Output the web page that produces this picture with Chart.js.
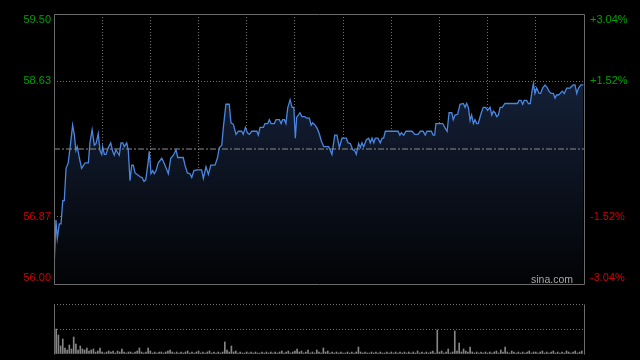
<!DOCTYPE html>
<html><head><meta charset="utf-8">
<script src="https://cdn.jsdelivr.net/npm/chart.js@4.4.0/dist/chart.umd.min.js"></script>
<style>
html,body{margin:0;padding:0;background:#000;width:640px;height:360px;overflow:hidden}
#p{position:absolute;left:0;top:0;width:640px;height:290px}
#v{position:absolute;left:0;top:290px;width:640px;height:70px}
</style></head><body>
<div id="p"><canvas id="pc"></canvas></div>
<div id="v"><canvas id="vc"></canvas></div>
<script>
// ---- data (minutes since open, price) ----
const times = [
0,0.9,1.5,2.4,3.2,4.0,4.7,5.5,6.5,7.6,
8.5,9.3,10.0,10.6,11.6,12.6,14.2,15.7,16.4,17.4,
18.4,19.2,20.2,21.0,21.8,22.2,23.0,23.7,24.8,25.9,
26.8,27.5,28.3,29.1,29.8,30.6,31.4,32.1,33.2,33.9,
34.7,35.5,36.2,37.0,38.0,39.3,40.2,41.1,41.9,42.8,
43.5,44.3,45.1,45.8,46.6,47.6,49.2,50.4,51.5,52.2,
53.3,54.5,55.7,56.5,58.0,59.0,59.8,60.9,62.1,62.9,
63.9,65.2,67.4,68.2,69.4,70.5,71.6,73.5,74.6,75.5,
76.6,77.3,78.5,80.0,80.8,81.9,83.1,84.2,85.7,86.4,
87.4,88.3,89.2,90.3,92.6,93.3,94.1,95.6,96.3,97.6,
98.3,99.1,100.6,101.4,102.9,103.7,104.4,105.2,105.9,106.7,
107.8,108.7,109.5,110.2,110.8,112.3,113.2,114.5,115.4,116.6,
117.4,118.1,119.2,120.1,121.1,122.1,123.2,125.4,126.2,126.9,
128.2,129.2,130.3,131.5,133.5,134.2,135.3,136.4,137.3,138.0,
139.1,139.9,140.6,141.4,142.6,143.7,144.4,145.2,146.0,146.7,
147.9,149.0,149.8,150.5,151.3,157.1,157.9,158.6,159.7,160.7,
163.5,164.7,166.2,167.3,168.5,169.5,170.3,172.3,173.1,173.8,
174.4,177.5,178.4,179.5,180.4,181.6,182.3,183.1,184.3,185.4,
186.9,187.7,188.4,189.2,190.0,190.7,191.5,192.2,193.0,193.7,
195.0,196.0,197.1,198.0,199.1,199.9,200.6,201.4,202.1,202.9,
203.7,204.7,205.9,211.7,212.3,213.2,214.0,214.7,215.8,216.6,
217.5,218.1,218.9,219.6,220.4,221.5,222.2,223.1,224.2,225.1,
226.0,226.9,228.0,228.8,229.5,230.3,231.1,232.1,233.0,234.1,
235.6,237.1,237.9,238.7,239.5,240.6,241.7
];
const prices = [
56.20,56.83,56.59,56.78,56.78,57.08,57.08,57.50,57.57,57.83,
58.06,57.93,57.73,57.78,57.63,57.50,57.57,57.57,57.83,58.00,
57.80,57.82,57.95,57.73,57.68,57.78,57.68,57.68,57.77,57.83,
57.72,57.67,57.74,57.70,57.67,57.83,57.83,57.78,57.83,57.74,
57.34,57.54,57.54,57.44,57.42,57.39,57.38,57.33,57.35,57.54,
57.72,57.43,57.47,57.43,57.47,57.57,57.63,57.56,57.48,57.43,
57.63,57.67,57.74,57.64,57.64,57.64,57.54,57.44,57.43,57.38,
57.47,57.48,57.48,57.37,57.52,57.42,57.54,57.54,57.63,57.77,
57.80,58.02,58.33,58.33,58.09,58.07,57.94,57.98,57.98,57.94,
58.03,57.96,57.94,57.98,57.98,57.93,58.03,58.03,58.08,58.08,
58.13,58.08,58.08,58.13,58.13,58.08,58.13,58.13,58.08,58.28,
58.39,58.29,58.29,57.89,58.16,58.22,58.17,58.17,58.15,58.15,
58.06,58.09,58.06,58.02,57.95,57.85,57.78,57.78,57.73,57.68,
57.93,57.93,57.77,57.89,57.89,57.83,57.82,57.74,57.73,57.68,
57.82,57.77,57.83,57.78,57.87,57.89,57.83,57.89,57.83,57.89,
57.89,57.83,57.89,57.89,57.98,57.98,57.93,57.96,57.93,57.98,
57.98,57.94,57.94,57.98,57.98,57.93,57.98,57.98,57.93,57.93,
58.08,58.08,58.03,57.98,58.22,58.22,58.13,58.19,58.20,58.33,
58.34,58.29,58.34,58.29,58.12,58.19,58.08,58.13,58.08,58.08,
58.21,58.29,58.29,58.25,58.29,58.19,58.24,58.22,58.17,58.19,
58.29,58.29,58.34,58.34,58.38,58.38,58.33,58.38,58.38,58.34,
58.34,58.47,58.60,58.47,58.54,58.47,58.47,58.54,58.58,58.55,
58.50,58.47,58.47,58.41,58.45,58.45,58.47,58.50,58.47,58.54,
58.54,58.58,58.58,58.47,58.54,58.58,58.58
];
const volumes = [
50,25,19,8,15,6,4,9,5,17,10,4,8,5,4,6,3,4,5,2,
3,6,2,1,2,3,2,3,1,3,2,5,2,1,2,2,1,2,3,6,
2,1,2,6,3,1,2,1,2,2,1,2,3,4,2,1,2,1,2,1,
2,3,1,2,1,2,3,1,2,1,2,3,1,2,1,2,1,2,12,4,
2,8,2,3,1,2,1,1,2,1,2,1,2,1,1,2,1,2,1,2,
1,2,1,2,3,1,2,3,1,2,3,5,2,3,1,2,4,1,2,1,
4,2,1,6,2,3,1,2,1,2,1,2,1,1,2,1,2,1,2,7,
2,1,2,1,1,2,1,2,1,2,1,1,2,1,2,1,2,1,2,1,
2,1,2,1,2,1,3,1,2,1,2,1,2,3,1,24,2,3,1,2,
5,1,2,23,3,11,2,5,3,2,7,2,1,2,1,2,1,2,1,2,
1,2,3,1,4,2,7,2,1,3,2,1,2,1,2,1,2,3,1,2,
2,1,2,3,1,2,1,2,3,1,2,1,2,1,3,2,1,2,3,1,2,3
];
const prevClose = 57.75;
const priceTicks = [59.50, 58.63, 57.75, 56.87, 56.00];
const priceLabels = ['59.50', '58.63', '', '56.87', '56.00'];
const pctLabels = ['+3.04%', '+1.52%', '', '-1.52%', '-3.04%'];
const volTicks = [0, 25, 50];
const sessionLength = 242;
const gridStep = 22;

const FONT = '"Liberation Sans", Arial, sans-serif';
const UP = '#00a000', DOWN = '#d00000';
const GRID = '#6e6e6e', FRAME = '#6a6a6a';

const framePlugin = (sides) => ({
  id: 'frame',
  afterDraw(chart) {
    const c = chart.ctx, a = chart.chartArea;
    const l = Math.round(a.left) + 0.5, r = Math.round(a.right) + 0.5;
    const t = Math.round(a.top) + 0.5, b = Math.round(a.bottom) + 0.5;
    c.save(); c.strokeStyle = FRAME; c.lineWidth = 1; c.beginPath();
    if (sides.includes('l')) { c.moveTo(l, t); c.lineTo(l, b); }
    if (sides.includes('r')) { c.moveTo(r, t); c.lineTo(r, b); }
    if (sides.includes('t')) { c.moveTo(l, t); c.lineTo(r, t); }
    if (sides.includes('b')) { c.moveTo(l, b); c.lineTo(r, b); }
    c.stroke(); c.restore();
  }
});

const labelPlugin = {
  id: 'labels',
  afterDraw(chart) {
    const c = chart.ctx, a = chart.chartArea, ys = chart.scales.y;
    c.save();
    c.font = '11px ' + FONT;
    c.textBaseline = 'middle';
    priceTicks.forEach((v, i) => {
      let y = ys.getPixelForValue(v);
      y = Math.min(Math.max(y, a.top + 6), a.bottom - 6);
      const col = v > prevClose ? UP : (v < prevClose ? DOWN : '#cccccc');
      c.fillStyle = col;
      c.textAlign = 'right';
      c.fillText(priceLabels[i], a.left - 3, y);
      c.textAlign = 'left';
      c.fillText(pctLabels[i], a.right + 6, y);
    });
    c.font = '10.5px ' + FONT;
    c.fillStyle = '#a8a8a8';
    c.textAlign = 'right';
    c.textBaseline = 'alphabetic';
    c.fillText('sina.com', a.right - 11, a.bottom - 1);
    c.restore();
  }
};

new Chart(document.getElementById('pc'), {
  type: 'line',
  data: {
    datasets: [
      {
        data: times.map((t, i) => ({ x: t, y: prices[i] })),
        borderColor: '#4a86e0', borderWidth: 1.3, pointRadius: 0, tension: 0,
        fill: 'start', order: 1,
        backgroundColor: (ctx) => {
          const ch = ctx.chart, a = ch.chartArea;
          if (!a) return 'rgba(0,0,0,0)';
          const g = ch.ctx.createLinearGradient(0, a.top, 0, a.bottom);
          g.addColorStop(0, '#1b2a48');
          g.addColorStop(1, '#020305');
          return g;
        }
      },
      {
        data: [{ x: 0, y: prevClose }, { x: sessionLength, y: prevClose }],
        borderColor: '#8c8c8c', borderWidth: 1, borderDash: [6, 2, 2, 2],
        pointRadius: 0, fill: false, order: 0
      }
    ]
  },
  options: {
    responsive: true, maintainAspectRatio: false, animation: false, devicePixelRatio: 1,
    layout: { padding: { top: 14, bottom: 6, left: 0, right: 56 } },
    plugins: { legend: { display: false }, tooltip: { enabled: false } },
    scales: {
      x: {
        type: 'linear', min: 0, max: sessionLength,
        ticks: { display: false, stepSize: gridStep },
        grid: {
          drawTicks: false, lineWidth: 1,
          color: (ctx) => (ctx.tick && (ctx.tick.value <= 0 || ctx.tick.value >= sessionLength)) ? 'rgba(0,0,0,0)' : GRID
        },
        border: { display: false, dash: [1, 2] },
        afterFit: (s) => { s.height = 0; }
      },
      y: {
        type: 'linear', position: 'left', min: 56.00, max: 59.50,
        afterBuildTicks: (s) => { s.ticks = priceTicks.map(v => ({ value: v })); },
        ticks: { display: false },
        grid: {
          drawTicks: false, lineWidth: 1,
          color: (ctx) => (ctx.tick && (ctx.tick.value === 58.63 || ctx.tick.value === 56.87)) ? GRID : 'rgba(0,0,0,0)'
        },
        border: { display: false, dash: [1, 2] },
        afterFit: (s) => { s.width = 54; }
      }
    }
  },
  plugins: [framePlugin('lrtb'), labelPlugin]
});

new Chart(document.getElementById('vc'), {
  type: 'bar',
  data: {
    datasets: [{
      data: volumes.map((v, i) => ({ x: i, y: v })),
      backgroundColor: '#858585', borderWidth: 0, barThickness: 1
    }]
  },
  options: {
    responsive: true, maintainAspectRatio: false, animation: false, devicePixelRatio: 1,
    layout: { padding: { top: 14, bottom: 6, left: 0, right: 56 } },
    plugins: { legend: { display: false }, tooltip: { enabled: false } },
    scales: {
      x: { type: 'linear', min: 0, max: sessionLength, offset: false, display: false, grid: { offset: false } },
      y: {
        type: 'linear', min: 0, max: 50,
        afterBuildTicks: (s) => { s.ticks = volTicks.map(v => ({ value: v })); },
        ticks: { display: false },
        grid: {
          drawTicks: false, lineWidth: 1,
          color: (ctx) => (ctx.tick && ctx.tick.value > 0) ? GRID : 'rgba(0,0,0,0)'
        },
        border: { display: false, dash: [1, 2] },
        afterFit: (s) => { s.width = 54; }
      }
    }
  },
  plugins: [framePlugin('lr')]
});
</script>
</body></html>
